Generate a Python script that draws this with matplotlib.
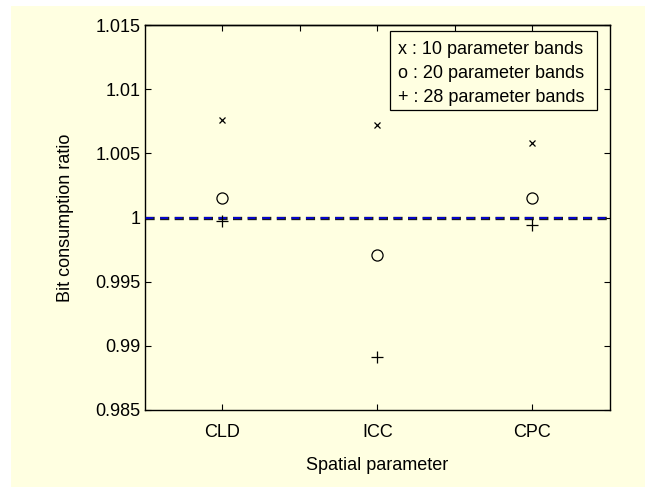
import matplotlib
matplotlib.use("Agg")
import matplotlib.pyplot as plt
from matplotlib.patches import Rectangle

plt.rcParams['font.family'] = ['Liberation Sans', 'DejaVu Sans']
plt.rcParams['lines.scale_dashes'] = False

categories = ['CLD', 'ICC', 'CPC']
bands10 = [1.0076, 1.0072, 1.0058]
bands20 = [1.0015, 0.9971, 1.0015]
bands28 = [0.9997, 0.9891, 0.9994]
ref_value = 1.0
yticks = [0.985, 0.99, 0.995, 1.0, 1.005, 1.01, 1.015]
ytick_labels = ['0.985', '0.99', '0.995', '1', '1.005', '1.01', '1.015']
legend_lines = ['x : 10 parameter bands', 'o : 20 parameter bands', '+ : 28 parameter bands']

W, H = 645, 487
FS = 13
bg = '#FFFFE1'
fig = plt.figure(figsize=(W / 100, H / 100), dpi=100, facecolor=bg)
fig.patches.append(Rectangle((0, 1 - 6 / H), 1, 6 / H, transform=fig.transFigure,
                             facecolor='white', edgecolor='none', zorder=-10))
fig.patches.append(Rectangle((0, 0), 11 / W, 1, transform=fig.transFigure,
                             facecolor='white', edgecolor='none', zorder=-10))

L, R, T, B = 145, 610, 25, 410
ax = fig.add_axes([L / W, 1 - B / H, (R - L) / W, (B - T) / H])
ax.set_facecolor(bg)

x = [1, 2, 3]
ax.plot([0.5, 3.5], [ref_value, ref_value], color='#1a1a1a', lw=2.4,
        linestyle=(0, (6.6, 3.9)), dash_capstyle='butt', zorder=2)
ax.plot([0.5, 3.5], [ref_value, ref_value], color='#0000EE', lw=1.2,
        linestyle=(10.0, (5.5, 5.0)), dash_capstyle='butt', zorder=3)

ax.plot(x, bands10, linestyle='none', marker='x', ms=4, mew=0.9, color='black', zorder=4)
ax.plot(x, bands20, linestyle='none', marker='o', ms=8, mew=0.9, mfc='none', mec='black', zorder=4)
ax.plot(x, bands28, linestyle='none', marker='+', ms=8, mew=0.9, color='black', zorder=4)

ax.set_xlim(0.5, 3.5)
ax.set_ylim(0.985, 1.015)
ax.set_xticks(x)
ax.set_xticklabels(categories, fontsize=FS)
ax.set_yticks(yticks)
ax.set_yticklabels(ytick_labels, fontsize=FS)
ax.tick_params(direction='in', length=4, width=0.8, right=True, top=False)
ax.tick_params(axis='y', pad=3)
ax.tick_params(axis='x', pad=10)
for s in ax.spines.values():
    s.set_linewidth(1.0)

sec = ax.secondary_xaxis('top')
sec.set_xticks([1, 1.5, 2, 2.5, 3])
sec.set_xticklabels([])
sec.tick_params(direction='in', length=4, width=0.8)
sec.spines['top'].set_linewidth(1.0)

fig.text(65 / W, 1 - ((T + B) / 2) / H, 'Bit consumption ratio', rotation=90,
         ha='center', va='center', fontsize=FS)
fig.text(((L + R) / 2) / W, 1 - 466 / H, 'Spatial parameter', ha='center', va='center', fontsize=FS)

lx0, lx1, ly0, ly1 = 390, 597, 31, 110
ax.add_patch(Rectangle(((lx0 - L) / (R - L), (B - ly1) / (B - T)),
                       (lx1 - lx0) / (R - L), (ly1 - ly0) / (B - T),
                       transform=ax.transAxes, facecolor=bg, edgecolor='black',
                       linewidth=0.9, zorder=5))
for i, line in enumerate(legend_lines):
    yc = [50, 73, 97][i]
    ax.text((398 - L) / (R - L), (B - yc) / (B - T), line, transform=ax.transAxes,
            ha='left', va='center', fontsize=FS, zorder=6)

fig.savefig('out.png', dpi=100, facecolor=bg)
